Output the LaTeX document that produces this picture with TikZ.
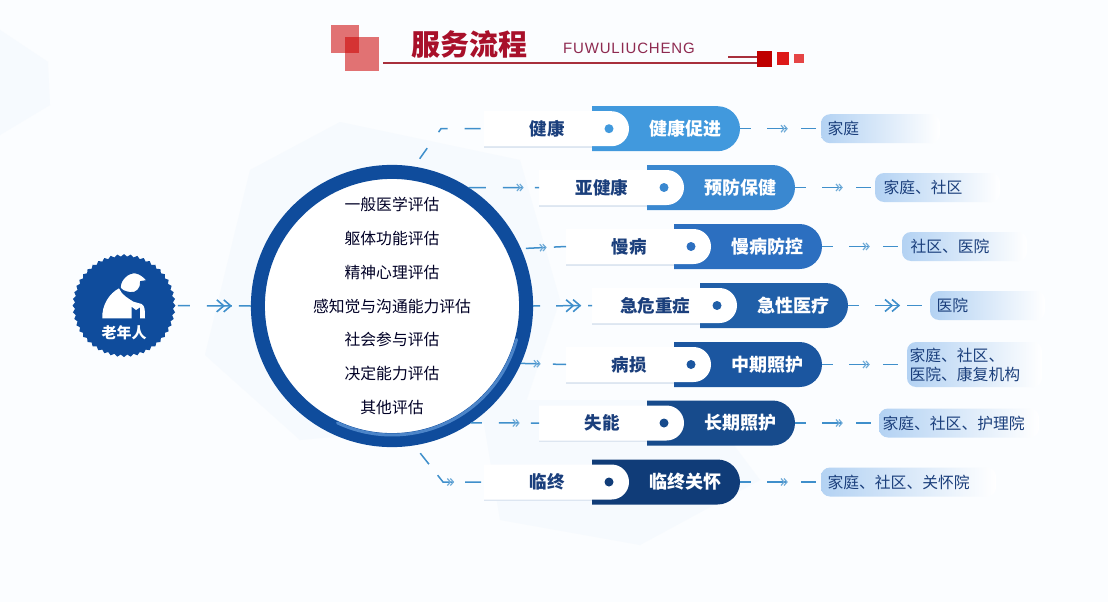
\documentclass[tikz,border=0pt]{standalone}
\usepackage{fontspec}
\setmainfont{Liberation Sans}
\newfontfamily\cjk{Noto Sans CJK SC}
\newfontfamily\latinsp[LetterSpace=5.5]{Liberation Sans}
\usetikzlibrary{shapes.geometric,shapes.misc,decorations.markings,calc}
\definecolor{c1}{HTML}{4199DD}
\definecolor{c2}{HTML}{3A88D0}
\definecolor{c3}{HTML}{2C6FC0}
\definecolor{c4}{HTML}{205FA8}
\definecolor{c5}{HTML}{1B56A0}
\definecolor{c6}{HTML}{174B8C}
\definecolor{c7}{HTML}{103C78}
\definecolor{ringblue}{HTML}{0F4C9C}
\definecolor{linkblue}{HTML}{3F8FCB}
\definecolor{titlered}{HTML}{A8102A}
\definecolor{rulered}{HTML}{A8303C}
\definecolor{subred}{HTML}{8E2A50}
\definecolor{labelblue}{HTML}{1B3F7C}
\definecolor{resblue}{HTML}{B3D2F3}
\definecolor{resmid}{HTML}{DDEBFA}
\definecolor{pale}{HTML}{F6FAFE}
\definecolor{pagebg}{HTML}{FBFDFF}
\definecolor{tabshadow}{HTML}{DDE6F1}
\tikzset{
  pillbox/.style={rounded rectangle,rounded rectangle left arc=none,minimum width=148,minimum height=45,inner sep=0,outer sep=0,anchor=west},
  tabbox/.style={rounded rectangle,rounded rectangle left arc=none,fill=white,minimum width=145,minimum height=35,inner sep=0,outer sep=0,anchor=west},
  dotmark/.style={circle,minimum size=9,inner sep=0},
  tabtext/.style={font=\cjk\bfseries\fontsize{17.5}{20}\selectfont,text=labelblue,inner sep=0},
  pilltext/.style={font=\cjk\bfseries\fontsize{18}{20}\selectfont,text=white,inner sep=0},
  resbox/.style={rectangle,rounded corners=9,left color=resblue,middle color=resmid,right color=white,anchor=west,minimum height=29,inner sep=0,outer sep=0,font=\cjk\fontsize{15.8}{19}\selectfont,text=labelblue},
  linkline/.style={draw=linkblue,line width=1.5},
}
\newcommand{\bigchev}{\draw[solid,draw=linkblue,line width=1.6] (-7pt,-6pt)--(0pt,0pt)--(-7pt,6pt) (-14pt,-6pt)--(-7pt,0pt)--(-14pt,6pt);}
\newcommand{\smallchev}{\draw[solid,draw=linkblue!75,line width=1.2] (-3pt,-3.5pt)--(0pt,0pt)--(-3pt,3.5pt) (-6pt,-3.5pt)--(-3pt,0pt)--(-6pt,3.5pt);}
\newcommand{\nochev}{}
% #1 path, #2 dash pattern, #3 mark position, #4 chevron
\newcommand{\linkpath}[4]{\draw[linkline,dash pattern=#2,postaction={decorate,decoration={markings,mark=at position #3 with {#4}}}] #1;}
\begin{document}
\begin{tikzpicture}[x=1pt,y=-1pt]
\useasboundingbox (0,0) rectangle (1108,602);
\fill[pagebg] (0,0) rectangle (1108,602);
% pale background shapes
\fill[pale] (0,30) -- (48,62) -- (50,105) -- (0,135) -- cycle;
\fill[pale] (250,170) -- (340,122) -- (520,160) -- (560,300) -- (520,420) -- (300,440) -- (205,355) -- cycle;
\fill[pale] (480,400) -- (700,400) -- (760,480) -- (640,545) -- (500,520) -- cycle;
% title
\fill[red!80!black,fill opacity=.55] (331,25) rectangle (359,53);
\fill[red!80!black,fill opacity=.55] (345,37) rectangle (379,71);
\node[font=\cjk\bfseries\fontsize{29}{32}\selectfont,text=titlered,inner sep=0] (title) at (469.5,44.5) {服务流程};
\node[font=\latinsp\fontsize{15}{18}\selectfont,text=subred,inner sep=0] (subtitle) at (629,48) {FUWULIUCHENG};
\draw[line width=2,draw=rulered] (383,63) -- (757,63);
\draw[line width=1.5,draw=rulered] (728,57) -- (757,57);
\fill[red!75!black] (757,51) rectangle (772,67);
\fill[red!85!black!90!white] (777,52) rectangle (789,65);
\fill[red!70!white!90!black] (794,54) rectangle (804,63);
% elder badge
\node[star,star points=48,star point ratio=1.05,fill=ringblue,inner sep=0,minimum size=103] (elder) at (124,305.6) {};
\begin{scope}[shift={(50,230)},scale=1/3]
  \fill[white] (157,265) .. controls (155,225) and (178,190) .. (207,175) .. controls (215,195) and (235,205) .. (250,215) -- (275,222) .. controls (285,228) and (285,240) .. (285,265) -- (270,265) -- (270,232) -- (258,240) -- (245,230) -- (245,265) -- cycle;
  \filldraw[fill=white,draw=ringblue,line width=1.2pt] (210,172) .. controls (212,145) and (235,128) .. (255,128) .. controls (270,130) and (285,142) .. (291,152) -- (272,155) .. controls (275,175) and (258,192) .. (240,188) .. controls (225,186) and (212,180) .. (210,172) -- cycle;
\end{scope}
\node[font=\cjk\bfseries\fontsize{15}{18}\selectfont,text=white,inner sep=0] (eldertext) at (124,333) {老年人};
% ring
\node[circle,draw=ringblue,line width=14,fill=white,minimum size=268,inner sep=0,align=center,font=\cjk\fontsize{15.8}{33.7}\selectfont,text=black!85!blue] (ring) at (392,306) {一般医学评估\\躯体功能评估\\精神心理评估\\感知觉与沟通能力评估\\社会参与评估\\决定能力评估\\其他评估};
\draw[line width=3,draw=c3!85!white,line cap=round] plot[domain=15:115,samples=40] ({392+129*cos(\x)},{306+129*sin(\x)});
% rows
\foreach \i/\tx/\ry/\col/\lab/\pil/\rx/\rw/\rh/\ins/\res in {
  1/484/128.7/c1/健康/健康促进/821/119/29/3/{家庭},
  2/539/187.5/c2/亚健康/预防保健/875/125/29/5/{家庭、社区},
  3/566/246.5/c3/慢病/慢病防控/902/125/29/5/{社区、医院},
  4/592/305.5/c4/急危重症/急性医疗/930/115/29/3/{医院},
  5/566/364.5/c5/病损/中期照护/907/135/45/-1/{家庭、社区、\\医院、康复机构},
  6/539/423/c6/失能/长期照护/879/160/29/0/{家庭、社区、护理院},
  7/484/482/c7/临终/临终关怀/821/175/29/3/{家庭、社区、关怀院}}{
  \fill[tabshadow] (\tx,\ry-15.5) rectangle (\tx+108,\ry+19);
  \node[pillbox,fill=\col] (pill\i) at (\tx+108,\ry) {};
  \node[tabbox] (tab\i) at (\tx,\ry) {};
  \node[dotmark,fill=\col] (dot\i) at (\tx+125,\ry) {};
  \node[tabtext] (lab\i) at (\tx+63,\ry) {\lab};
  \node[pilltext] (pt\i) at (\tx+201,\ry) {\pil};
  \node[resbox,minimum width=\rw,minimum height=\rh,text width=\rw-7,align=left,inner xsep=0] (res\i) at (\rx,\ry) {\hspace*{\ins pt}\parbox[c]{\dimexpr\rw pt-10pt}{\res}};
}
% left connectors
\linkpath{(elder.east) -- (ring.west)}{on 0pt off 2pt on 12pt off 17pt on 25pt off 7pt on 13pt off 99pt}{55pt}{\bigchev}
\coordinate (e1) at (441,128.7);
\coordinate (e7) at (443,482);
\linkpath{(ring.81) -- (e1) -- (tab1.west)}{on 0pt off 9.7pt on 13pt off 19.6pt on 10.8pt off 17pt on 16pt off 99pt}{1pt}{\nochev}
\linkpath{(ring.57.2) -- (tab2.west)}{on 17pt off 17pt on 20pt off 12pt on 99pt}{54pt}{\smallchev}
\linkpath{(ring.24.97) -- (tab3.west)}{on 0pt off 5pt on 20pt off 8pt on 99pt}{25pt}{\smallchev}
\linkpath{(ring.east) -- (tab4.west)}{on 7pt off 16pt on 24pt off 8pt on 99pt}{47pt}{\bigchev}
\linkpath{(ring.-24.5) -- (tab5.west)}{on 19pt off 13pt on 99pt}{19pt}{\smallchev}
\linkpath{(ring.-56.1) -- (tab6.west)}{on 11pt off 17pt on 20pt off 12pt on 99pt}{48pt}{\smallchev}
\linkpath{(ring.-81) -- (e7) -- (tab7.west)}{on 0pt off 10pt on 14pt off 14pt on 19pt off 11.8pt on 16pt off 99pt}{57pt}{\smallchev}
% right connectors
\foreach \i in {1,2,3,5,6,7}{
  \linkpath{(pill\i.east) -- (res\i.west)}{on 11pt off 16pt on 20pt off 14pt on 15pt off 99pt}{47pt}{\smallchev}
}
\linkpath{(pill4.east) -- (res4.west)}{on 11pt off 16pt on 24pt off 8pt on 15pt off 99pt}{51pt}{\bigchev}
\end{tikzpicture}
\end{document}
